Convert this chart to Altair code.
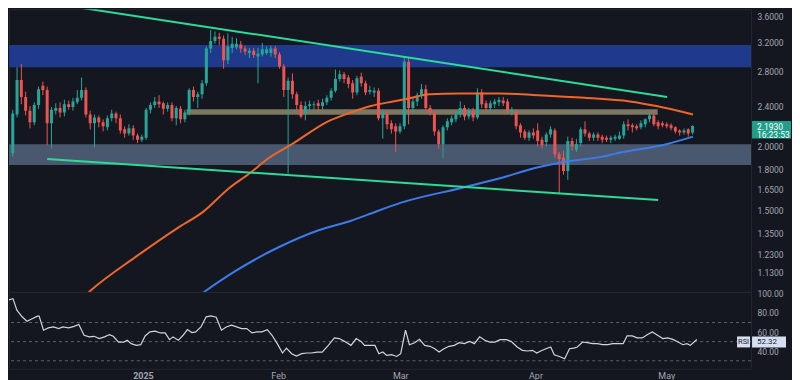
import altair as alt
import pandas as pd

# ---------------- data (day 0 = 1 Jan 2025, first candle = 1 Dec 2024) ----------------
first_day = -31

open_ = [1.94, 2.31, 2.70, 2.50, 2.35, 2.23, 2.41, 2.63, 2.58, 2.22,
         2.35, 2.38, 2.33, 2.42, 2.39, 2.44, 2.49, 2.58, 2.31, 2.22,
         2.28, 2.23, 2.18, 2.27, 2.32, 2.27, 2.16, 2.12, 2.17, 2.10,
         2.06, 2.08, 2.36, 2.41, 2.45, 2.43, 2.37, 2.41, 2.27, 2.37,
         2.26, 2.33, 2.58, 2.50, 2.53, 2.66, 3.11, 3.22, 3.28, 3.25,
         2.95, 3.12, 3.13, 3.17, 3.11, 3.05, 3.08, 3.00, 3.03, 3.05,
         3.05, 3.11, 3.03, 2.87, 2.58, 2.69, 2.53, 2.41, 2.32, 2.40,
         2.41, 2.43, 2.40, 2.44, 2.49, 2.57, 2.71, 2.77, 2.73, 2.66,
         2.55, 2.74, 2.66, 2.56, 2.55, 2.57, 2.27, 2.32, 2.22, 2.19,
         2.14, 2.19, 2.93, 2.38, 2.45, 2.51, 2.59, 2.38, 2.32, 2.14,
         2.02, 2.18, 2.23, 2.26, 2.31, 2.38, 2.29, 2.35, 2.28, 2.55,
         2.43, 2.38, 2.42, 2.44, 2.46, 2.45, 2.34, 2.34, 2.20, 2.14,
         2.08, 2.13, 2.15, 2.06, 2.04, 2.11, 2.15, 1.93, 1.90, 1.79,
         2.05, 1.97, 2.03, 2.16, 2.12, 2.08, 2.11, 2.09, 2.08, 2.06,
         2.07, 2.07, 2.10, 2.21, 2.20, 2.19, 2.18, 2.21, 2.26, 2.30,
         2.23, 2.22, 2.21, 2.20, 2.18, 2.15, 2.13, 2.16, 2.13]

high = [2.36, 2.86, 2.90, 2.56, 2.40, 2.44, 2.62, 2.68, 2.62, 2.39,
        2.43, 2.44, 2.47, 2.46, 2.49, 2.58, 2.73, 2.61, 2.35, 2.31,
        2.30, 2.26, 2.30, 2.36, 2.34, 2.31, 2.19, 2.21, 2.20, 2.12,
        2.11, 2.38, 2.44, 2.50, 2.52, 2.45, 2.44, 2.44, 2.40, 2.40,
        2.36, 2.60, 2.62, 2.56, 2.70, 3.14, 3.38, 3.36, 3.34, 3.30,
        3.33, 3.28, 3.26, 3.22, 3.15, 3.12, 3.12, 3.12, 3.19, 3.14,
        3.15, 3.15, 3.06, 2.90, 2.73, 2.78, 2.56, 2.45, 2.45, 2.46,
        2.45, 2.47, 2.48, 2.52, 2.60, 2.83, 2.82, 2.80, 2.76, 2.70,
        2.75, 2.79, 2.69, 2.63, 2.61, 2.60, 2.36, 2.35, 2.25, 2.22,
        2.22, 2.99, 2.99, 2.50, 2.55, 2.65, 2.64, 2.41, 2.34, 2.16,
        2.20, 2.27, 2.30, 2.34, 2.45, 2.41, 2.38, 2.38, 2.60, 2.59,
        2.46, 2.46, 2.48, 2.50, 2.50, 2.48, 2.39, 2.36, 2.22, 2.16,
        2.15, 2.17, 2.22, 2.09, 2.13, 2.19, 2.17, 1.95, 1.96, 2.09,
        2.08, 2.07, 2.18, 2.24, 2.14, 2.13, 2.13, 2.11, 2.10, 2.10,
        2.11, 2.14, 2.24, 2.26, 2.22, 2.21, 2.25, 2.27, 2.32, 2.32,
        2.25, 2.24, 2.23, 2.22, 2.19, 2.16, 2.17, 2.17, 2.20]

low = [1.91, 2.28, 2.42, 2.30, 2.17, 2.20, 2.37, 2.52, 2.01, 1.98,
       2.31, 2.28, 2.29, 2.36, 2.35, 2.42, 2.46, 2.28, 2.16, 1.99,
       2.18, 2.14, 2.15, 2.24, 2.22, 2.12, 2.08, 2.10, 2.06, 2.03,
       2.04, 2.06, 2.32, 2.38, 2.38, 2.31, 2.34, 2.24, 2.20, 2.22,
       2.23, 2.30, 2.45, 2.38, 2.48, 2.63, 3.05, 3.18, 3.16, 2.84,
       2.90, 3.05, 3.10, 3.05, 3.02, 2.98, 2.98, 2.66, 3.00, 3.02,
       3.00, 2.98, 2.84, 2.50, 1.77, 2.48, 2.36, 2.27, 2.25, 2.35,
       2.36, 2.35, 2.36, 2.41, 2.46, 2.55, 2.68, 2.66, 2.60, 2.48,
       2.52, 2.62, 2.52, 2.53, 2.50, 2.25, 2.07, 2.16, 2.12, 1.95,
       2.12, 2.16, 2.21, 2.33, 2.40, 2.48, 2.36, 2.30, 2.10, 1.98,
       1.90, 2.15, 2.20, 2.23, 2.28, 2.25, 2.26, 2.24, 2.26, 2.38,
       2.34, 2.34, 2.38, 2.40, 2.40, 2.32, 2.30, 2.16, 2.08, 2.06,
       2.05, 2.07, 2.00, 1.98, 2.00, 2.08, 1.90, 1.62, 1.76, 1.72,
       1.96, 1.95, 2.00, 2.09, 2.05, 2.05, 2.05, 2.03, 2.04, 2.03,
       2.05, 2.06, 2.07, 2.15, 2.13, 2.15, 2.16, 2.18, 2.23, 2.19,
       2.16, 2.18, 2.17, 2.15, 2.12, 2.10, 2.11, 2.09, 2.11]

close = [2.32, 2.70, 2.50, 2.35, 2.23, 2.41, 2.59, 2.58, 2.22, 2.36,
         2.38, 2.33, 2.42, 2.39, 2.45, 2.49, 2.58, 2.31, 2.22, 2.28,
         2.23, 2.19, 2.27, 2.32, 2.27, 2.15, 2.12, 2.17, 2.10, 2.06,
         2.09, 2.36, 2.41, 2.45, 2.42, 2.37, 2.41, 2.27, 2.38, 2.26,
         2.33, 2.58, 2.50, 2.53, 2.66, 3.11, 3.22, 3.28, 3.25, 2.95,
         3.14, 3.18, 3.18, 3.11, 3.07, 3.08, 3.02, 3.04, 3.10, 3.10,
         3.11, 3.03, 2.87, 2.58, 2.69, 2.53, 2.41, 2.29, 2.40, 2.42,
         2.42, 2.40, 2.44, 2.49, 2.57, 2.71, 2.77, 2.71, 2.65, 2.55,
         2.72, 2.66, 2.55, 2.58, 2.57, 2.27, 2.33, 2.21, 2.16, 2.14,
         2.19, 2.93, 2.38, 2.45, 2.52, 2.59, 2.38, 2.33, 2.14, 2.02,
         2.18, 2.24, 2.27, 2.31, 2.38, 2.29, 2.35, 2.28, 2.55, 2.42,
         2.38, 2.43, 2.45, 2.47, 2.43, 2.35, 2.36, 2.19, 2.13, 2.08,
         2.13, 2.10, 2.05, 2.01, 2.11, 2.16, 1.93, 1.89, 1.79, 2.05,
         2.00, 2.02, 2.16, 2.12, 2.08, 2.11, 2.08, 2.06, 2.06, 2.08,
         2.09, 2.10, 2.21, 2.19, 2.18, 2.17, 2.22, 2.26, 2.30, 2.21,
         2.19, 2.20, 2.19, 2.17, 2.14, 2.13, 2.15, 2.12, 2.193]

days = list(range(first_day, first_day + len(close)))

ma_orange_day = [-14.2, -13.1, -2.1, 7.1, 13.3, 19.4, 24.0, 28.6, 33.9, 42.3, 46.9,
                 52.2, 57.4, 60.7, 65.9, 72.8, 82.0, 91.1, 101.9, 112.4, 118.6, 127.1]
ma_orange_val = [1.02, 1.04, 1.22, 1.38, 1.49, 1.66, 1.77, 1.90, 2.02, 2.24, 2.32,
                 2.40, 2.45, 2.48, 2.53, 2.54, 2.54, 2.52, 2.49, 2.45, 2.40, 2.31]

ma_blue_day = [12.3, 13.7, 20.8, 30.9, 40.1, 47.6, 51.5, 59.1, 73.5, 82.0, 91.1,
               96.4, 106.0, 109.5, 120.9, 127.1]
ma_blue_val = [1.02, 1.04, 1.14, 1.27, 1.37, 1.43, 1.47, 1.55, 1.66, 1.73, 1.82,
               1.86, 1.91, 1.94, 2.02, 2.09]

trend_upper_day = [-24.1, 121.1]
trend_upper_val = [3.84, 2.50]
trend_lower_day = [-23.0, 119.0]
trend_lower_val = [1.89, 1.57]

zone_resist = [2.86, 3.16]
zone_support = [1.84, 2.02]
band_mid = [2.307, 2.364]
band_mid_days = [9.4, 118.9]

rsi_day = [-31.0, -29.8, -28.9, -27.7, -26.6, -25.4, -24.2, -23.8, -22.8, -21.7,
           -20.5, -19.3, -18.4, -17.0, -15.8, -14.7, -13.5, -12.3, -11.2, -10.0,
           -8.8, -7.7, -6.8, -5.6, -4.4, -3.6, -2.7, -1.5, -0.5, 0.5,
           1.6, 2.8, 4.0, 5.1, 6.1, 6.9, 8.1, 9.2, 10.2, 11.2,
           12.1, 13.3, 14.5, 15.6, 16.8, 18.0, 19.1, 20.3, 21.5, 22.6,
           23.8, 25.0, 26.1, 27.3, 28.5, 29.6, 30.8, 32.0, 32.9, 34.1,
           35.2, 36.4, 37.6, 38.7, 39.9, 41.1, 42.5, 43.9, 45.0, 46.2,
           47.7, 48.9, 50.0, 50.8, 52.0, 53.2, 54.1, 55.0, 55.9, 57.0,
           58.2, 59.1, 60.2, 61.1, 62.3, 63.4, 64.6, 65.8, 66.9, 67.9,
           69.0, 70.2, 71.4, 72.5, 73.7, 74.9, 76.0, 77.2, 78.4, 79.5,
           80.7, 81.9, 83.3, 84.4, 85.8, 87.0, 88.2, 89.3, 90.3, 91.2,
           92.4, 93.5, 94.3, 95.5, 96.7, 97.8, 98.8, 99.6, 100.8, 101.9,
           103.1, 104.2, 105.4, 106.6, 107.7, 108.9, 110.1, 111.0, 112.2, 113.3,
           114.5, 115.7, 116.8, 118.0, 119.2, 120.3, 121.5, 122.7, 123.8, 124.7,
           125.5, 127.0]
rsi_val = [93.5, 95.0, 83.0, 76.0, 71.4, 74.0, 76.7, 76.7, 62.0, 64.4,
           65.4, 63.7, 65.4, 64.4, 66.0, 68.0, 56.7, 55.0, 55.6, 53.2,
           55.0, 57.4, 55.6, 49.6, 49.6, 51.4, 47.9, 46.1, 46.8, 56.0,
           60.2, 60.9, 59.1, 59.1, 52.1, 55.0, 51.4, 56.7, 62.6, 59.5,
           60.2, 65.4, 76.0, 77.0, 75.6, 62.0, 65.4, 67.2, 65.4, 63.7,
           63.7, 59.1, 60.2, 60.2, 62.6, 56.7, 47.9, 38.1, 43.3, 37.4,
           34.9, 37.4, 38.1, 38.1, 39.1, 39.1, 46.1, 53.9, 53.2, 50.3,
           46.1, 53.2, 50.3, 46.1, 46.1, 46.1, 37.4, 39.1, 35.6, 36.3,
           34.5, 37.4, 62.0, 46.8, 48.9, 52.4, 46.1, 45.1, 42.6, 39.1,
           42.6, 45.1, 46.1, 48.9, 47.9, 50.3, 47.9, 55.0, 51.4, 49.6,
           49.6, 52.1, 52.1, 50.3, 44.4, 40.9, 40.2, 40.9, 38.1, 40.2,
           42.6, 44.4, 36.3, 34.5, 32.1, 42.6, 43.3, 44.4, 49.6, 48.9,
           47.9, 47.9, 46.8, 46.8, 47.9, 47.9, 47.9, 56.0, 56.0, 53.9,
           53.9, 57.4, 60.2, 56.7, 53.2, 53.9, 52.4, 49.6, 46.8, 47.9,
           46.1, 52.32]
rsi_levels = [70, 50, 30]

price_ticks = [3.6, 3.2, 2.8, 2.4, 2.0, 1.8, 1.65, 1.5, 1.35, 1.23, 1.13]
rsi_ticks = [100, 80, 60, 40]
time_ticks = [0, 31, 59, 90, 120]
time_labels = ["2025", "Feb", "Mar", "Apr", "May"]
last_price = 2.193
countdown = "16:23:53"
last_rsi = 52.32

# ---------------- style ----------------
W, H_MAIN, H_RSI = 743, 283, 77
BG = "#141720"
LABEL = "#a3a6af"
FONT = "Roboto"
UP, DOWN = "#26a69a", "#ef5350"
GREEN, ORANGE, BLUE = "#2bdc98", "#f0652b", "#3d7bea"

x_scale = alt.Scale(domain=[-30.71, 139.43], nice=False, zero=False)
y_scale = alt.Scale(type="log", domain=[1.0372, 3.715], nice=False)
y_axis = alt.Axis(orient="right", values=price_ticks, format=".4f", title=None,
                  ticks=False, tickSize=0, domain=False, grid=False, labelPadding=6,
                  labelColor=LABEL, labelFontSize=8.5, labelFont=FONT,
                  labelAlign="left", labelBaseline="middle")


def X(f):
    return alt.X(f, type="quantitative", scale=x_scale, axis=None)


def Y(f):
    return alt.Y(f, type="quantitative", scale=y_scale, axis=y_axis)


cdf = pd.DataFrame({"d": days, "o": open_, "h": high, "l": low, "c": close})
cdf["dir"] = ["up" if c >= o else "down" for o, c in zip(open_, close)]
col = alt.Color("dir:N", scale=alt.Scale(domain=["up", "down"], range=[UP, DOWN]), legend=None)

zones_df = pd.DataFrame({"lo": [zone_resist[0], zone_support[0]],
                         "hi": [zone_resist[1], zone_support[1]],
                         "fill": ["#1f3a8c", "#4a586f"]})
zones = alt.Chart(zones_df).mark_rect(clip=True).encode(
    x=alt.value(0), x2=alt.value(W), y=Y("lo"), y2="hi",
    color=alt.Color("fill:N", scale=None))

band = alt.Chart(pd.DataFrame({"d0": [band_mid_days[0]], "d1": [band_mid_days[1]],
                               "lo": [band_mid[0]], "hi": [band_mid[1]]})).mark_rect(
    color="#7b7761", clip=True).encode(x=X("d0"), x2="d1", y=Y("lo"), y2="hi")

wicks = alt.Chart(cdf).mark_rule(strokeWidth=1, clip=True).encode(
    x=X("d"), y=Y("l"), y2="h", color=col)
bodies = alt.Chart(cdf).mark_bar(width=3, clip=True).encode(
    x=X("d"), y=Y("o"), y2="c", color=col)

orange = alt.Chart(pd.DataFrame({"d": ma_orange_day, "v": ma_orange_val})).mark_line(
    color=ORANGE, strokeWidth=2, clip=True, interpolate="monotone").encode(x=X("d"), y=Y("v"))
blue = alt.Chart(pd.DataFrame({"d": ma_blue_day, "v": ma_blue_val})).mark_line(
    color=BLUE, strokeWidth=2, clip=True, interpolate="monotone").encode(x=X("d"), y=Y("v"))

tdf = pd.DataFrame({"d": trend_upper_day + trend_lower_day,
                    "v": trend_upper_val + trend_lower_val,
                    "g": ["u", "u", "l", "l"]})
trends = alt.Chart(tdf).mark_line(color=GREEN, strokeWidth=2, clip=True).encode(
    x=X("d"), y=Y("v"), detail="g:N")

tag_df = pd.DataFrame({"p": [last_price], "t1": [f"{last_price:.4f}"], "t2": [countdown]})
tag_rect = alt.Chart(tag_df).mark_rect(color="#1f9f8a", yOffset=-5, y2Offset=12.5).encode(
    x=alt.value(744), x2=alt.value(783), y=Y("p"), y2="p")
tag_t1 = alt.Chart(tag_df).mark_text(align="left", baseline="middle", color="white",
                                     fontSize=8.5, font=FONT, dy=0.5).encode(
    x=alt.value(749), y=Y("p"), text="t1:N")
tag_t2 = alt.Chart(tag_df).mark_text(align="left", baseline="middle", color="white",
                                     fontSize=8.5, font=FONT, dy=9).encode(
    x=alt.value(749), y=Y("p"), text="t2:N")

main = alt.layer(zones, band, wicks, bodies, orange, blue, trends,
                 tag_rect, tag_t1, tag_t2).properties(width=W, height=H_MAIN)

# ---------------- RSI pane ----------------
label_expr = " : ".join(f"datum.value == {v} ? '{t}'" for v, t in zip(time_ticks, time_labels)) + " : ''"
x_axis_time = alt.Axis(values=time_ticks, labelExpr=label_expr, title=None, ticks=False,
                       tickSize=0, domain=False, grid=False, labelPadding=3,
                       labelColor=LABEL, labelFontSize=9, labelFont=FONT, orient="bottom",
                       labelFontWeight={"condition": {"test": "datum.value == 0", "value": "bold"},
                                        "value": "normal"})
rsi_scale = alt.Scale(domain=[21.6, 102.1], nice=False, zero=False)
rsi_axis = alt.Axis(orient="right", values=rsi_ticks, format=".2f", title=None, ticks=False,
                    tickSize=0, domain=False, grid=False, labelPadding=6, labelColor=LABEL,
                    labelFontSize=8.5, labelFont=FONT, labelAlign="left", labelBaseline="middle")

levels = alt.Chart(pd.DataFrame({"lv": rsi_levels})).mark_rule(
    color="#5d616d", strokeDash=[3, 3], strokeWidth=1).encode(
    y=alt.Y("lv:Q", scale=rsi_scale, axis=rsi_axis))
rsi_line = alt.Chart(pd.DataFrame({"d": rsi_day, "v": rsi_val})).mark_line(
    color="#d1d4dc", strokeWidth=1.2, clip=True).encode(
    x=alt.X("d:Q", scale=x_scale, axis=x_axis_time),
    y=alt.Y("v:Q", scale=rsi_scale, axis=rsi_axis))

rtag_df = pd.DataFrame({"v": [last_rsi], "name": ["RSI"], "val": [f"{last_rsi:.2f}"]})
rtag_box1 = alt.Chart(rtag_df).mark_rect(color="#d5dff0", yOffset=-3, y2Offset=8).encode(
    x=alt.value(729), x2=alt.value(742), y=alt.Y("v:Q", scale=rsi_scale, axis=rsi_axis), y2="v")
rtag_box2 = alt.Chart(rtag_df).mark_rect(color="#d5dff0", yOffset=-3, y2Offset=8).encode(
    x=alt.value(744), x2=alt.value(778), y=alt.Y("v:Q", scale=rsi_scale, axis=rsi_axis), y2="v")
rtag_t1 = alt.Chart(rtag_df).mark_text(align="center", baseline="middle", color="#1c2433",
                                       fontSize=7.5, font=FONT, dy=2.5).encode(
    x=alt.value(735.5), y=alt.Y("v:Q", scale=rsi_scale, axis=rsi_axis), text="name:N")
rtag_t2 = alt.Chart(rtag_df).mark_text(align="left", baseline="middle", color="#1c2433",
                                       fontSize=8, font=FONT, dy=2.5).encode(
    x=alt.value(749), y=alt.Y("v:Q", scale=rsi_scale, axis=rsi_axis), text="val:N")

rsi = alt.layer(levels, rsi_line, rtag_box1, rtag_box2, rtag_t1, rtag_t2).properties(
    width=W, height=H_RSI)

chart = alt.vconcat(main, rsi, spacing=0, bounds="flush").properties(
    padding=0, background=BG
).configure_view(stroke="#22262f", strokeWidth=1)

chart.save("out.html", embed_options={"renderer": "svg", "actions": False})
